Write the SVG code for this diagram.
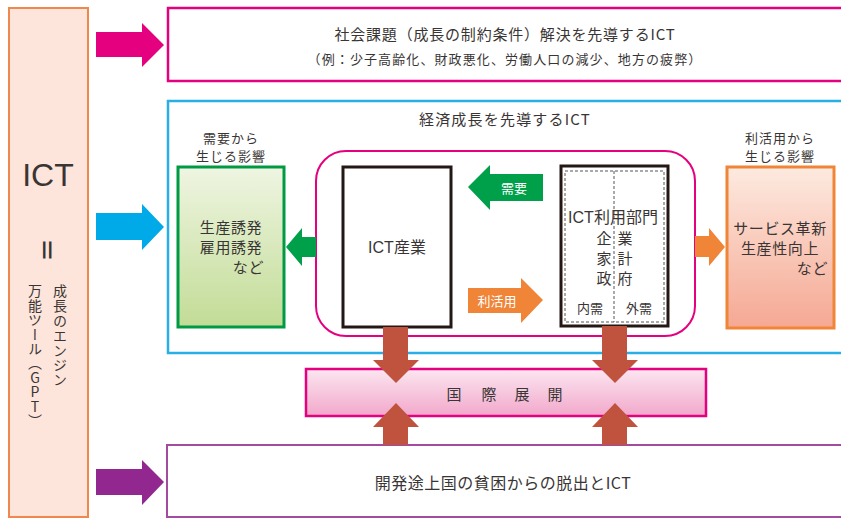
<svg xmlns="http://www.w3.org/2000/svg" width="841" height="518" viewBox="0 0 841 518">
<defs>
<linearGradient id="gGreen" x1="0" y1="0" x2="0" y2="1"><stop offset="0" stop-color="#EFF5E2"/><stop offset="1" stop-color="#C2DC96"/></linearGradient>
<linearGradient id="gOrange" x1="0" y1="0" x2="0" y2="1"><stop offset="0" stop-color="#FDEAE0"/><stop offset="1" stop-color="#F5A893"/></linearGradient>
<linearGradient id="gPink" x1="0" y1="0" x2="0" y2="1"><stop offset="0" stop-color="#FBE6F0"/><stop offset="1" stop-color="#F2A8CB"/></linearGradient>
</defs>
<style>
text{font-family:"Noto Sans CJK JP","Noto Sans",sans-serif;fill:#3A3535;dominant-baseline:central}
.lat{font-family:"Liberation Sans","Noto Sans CJK JP",sans-serif}
.c{text-anchor:middle}
.r{text-anchor:end}
.w{fill:#FFFFFF}
.vt{writing-mode:vertical-rl;text-orientation:upright}
.brown{fill:#C0533D}
</style>
<g id="goal-social">
<rect x="168" y="8" width="690" height="73" fill="#FFFFFF" stroke="#E4007F" stroke-width="2.5"/>
<text x="505" y="33" class="c" font-size="15" letter-spacing="0.8">社会課題（成長の制約条件）解決を先導するICT</text>
<text x="505" y="58" class="c" font-size="13" letter-spacing="1.1">（例：少子高齢化、財政悪化、労働人口の減少、地方の疲弊）</text>
</g>
<g id="goal-economy">
<rect x="168" y="101" width="690" height="252" fill="#FFFFFF" stroke="#29AEE6" stroke-width="2.5"/>
<text x="505" y="118" class="c" font-size="15" letter-spacing="1.2">経済成長を先導するICT</text>
</g>
<g id="goal-developing">
<rect x="167" y="445" width="690" height="72" fill="#FFFFFF" stroke="#A24BA0" stroke-width="2"/>
<text x="503" y="482" class="c" font-size="16" letter-spacing="0.5">開発途上国の貧困からの脱出とICT</text>
</g>
<g id="ict">
<rect x="9" y="8" width="79" height="509" fill="#FDE5DB" stroke="#F0884E" stroke-width="2"/>
<text x="48" y="175" class="c lat" font-size="32">ICT</text>
<text x="48" y="250" class="c" font-size="24" font-weight="bold" transform="rotate(90 48 250)">＝</text>
<text x="60" y="284" class="vt" font-size="14" letter-spacing="0.8">成長のエンジン</text>
<text x="35" y="284" class="vt" font-size="14" letter-spacing="0.4">万能ツール（GPT）</text>
</g>
<g id="demand-impact">
<text x="231" y="137" class="c" font-size="13" letter-spacing="1">需要から</text>
<text x="231" y="155" class="c" font-size="13" letter-spacing="1">生じる影響</text>
<rect x="178" y="167" width="106" height="160" fill="url(#gGreen)" stroke="#009944" stroke-width="3"/>
<text x="231" y="226" class="c" font-size="15" letter-spacing="0.6">生産誘発</text>
<text x="231" y="246" class="c" font-size="15" letter-spacing="0.6">雇用誘発</text>
<text x="264" y="266" class="r" font-size="15" letter-spacing="0.6">など</text>
</g>
<g id="use-impact">
<text x="780" y="137" class="c" font-size="13" letter-spacing="1">利活用から</text>
<text x="780" y="155" class="c" font-size="13" letter-spacing="1">生じる影響</text>
<rect x="727" y="167" width="107" height="161" fill="url(#gOrange)" stroke="#F08437" stroke-width="3"/>
<text x="780" y="227" class="c" font-size="15" letter-spacing="0.6">サービス革新</text>
<text x="780" y="247" class="c" font-size="15" letter-spacing="0.6">生産性向上</text>
<text x="828" y="267" class="r" font-size="15" letter-spacing="0.6">など</text>
</g>
<g id="ict-cluster">
<rect x="316" y="151" width="379" height="185" rx="30" ry="30" fill="none" stroke="#E4007F" stroke-width="2"/>
</g>
<g id="ict-industry">
<rect x="343" y="167" width="108" height="160" fill="#FFFFFF" stroke="#231815" stroke-width="3"/>
<text x="397" y="247" class="c lat" font-size="16">ICT産業</text>
</g>
<g id="ict-users">
<rect x="561" y="166" width="107" height="160" fill="#FFFFFF" stroke="#231815" stroke-width="3"/>
<rect x="565" y="171" width="99" height="151" fill="none" stroke="#555" stroke-width="1" stroke-dasharray="3 2"/>
<line x1="614" y1="171" x2="614" y2="322" stroke="#555" stroke-width="1" stroke-dasharray="3 2"/>
<text x="613" y="217" class="c lat" font-size="16">ICT利用部門</text>
<text x="604 625" y="237" class="c" font-size="15">企業</text>
<text x="604 625" y="257" class="c" font-size="15">家計</text>
<text x="604 625" y="277" class="c" font-size="15">政府</text>
<text x="590" y="307" class="c" font-size="13">内需</text>
<text x="639" y="307" class="c" font-size="13">外需</text>
</g>
<g id="global">
<rect x="306" y="369" width="400" height="47" fill="url(#gPink)" stroke="#E4007F" stroke-width="2.5"/>
<text x="454 489 522 555" y="393" class="c" font-size="15">国際展開</text>
</g>
<g id="connectors">
<polygon points="96,32 142,32 142,23 164,45 142,67 142,57 96,57" fill="#E4007F"/>
<polygon points="96,213 142,213 142,204 164,227 142,250 142,240 96,240" fill="#00A9E8"/>
<polygon points="96,469 142,469 142,460 164,482 142,505 142,495 96,495" fill="#92278F"/>
<polygon points="286,247 302,228 302,237 316,237 316,257 302,257 302,266" fill="#00A04A"/>
<polygon points="468,187 490,165 490,174 543,174 543,201 490,201 490,210" fill="#00A04A"/>
<text x="514" y="187" class="c w" font-size="13">需要</text>
<polygon points="468,288 521,288 521,278 543,300 521,323 521,313 468,313" fill="#F08437"/>
<text x="497" y="300" class="c w" font-size="13">利活用</text>
<polygon points="695,236 709,236 709,228 725,247 709,266 709,257 695,257" fill="#F08437"/>
<polygon class="brown" points="383,327 408,327 408,360 419,360 396,383 373,360 383,360"/>
<polygon class="brown" points="396,403 419,427 408,427 408,445 383,445 383,427 373,427"/>
<polygon class="brown" points="602,326 627,326 627,360 638,360 615,383 592,360 602,360"/>
<polygon class="brown" points="615,403 638,427 627,427 627,445 602,445 602,427 592,427"/>
</g>
</svg>
